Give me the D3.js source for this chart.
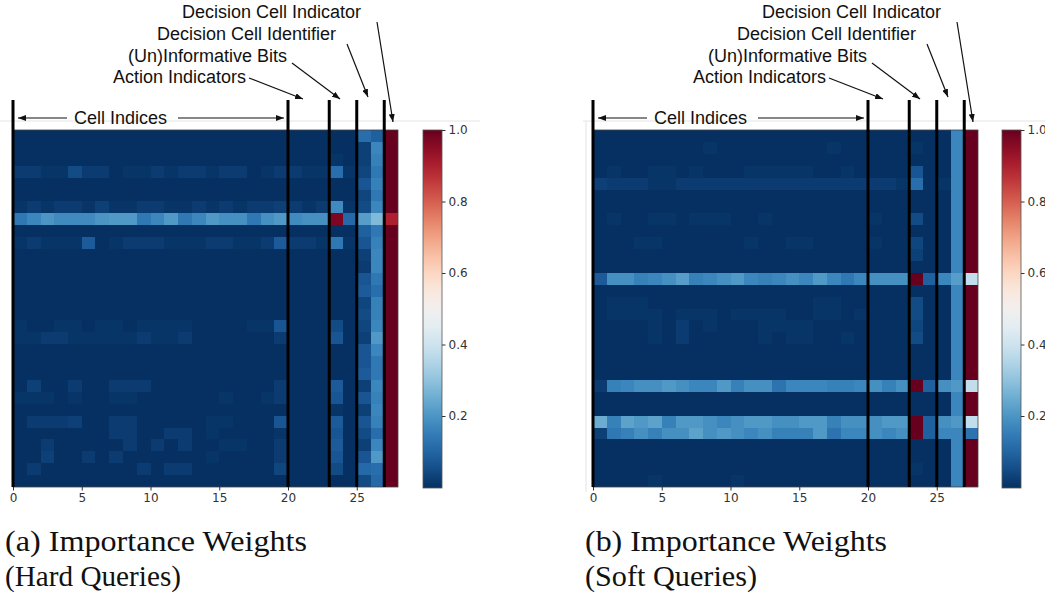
<!DOCTYPE html>
<html>
<head>
<meta charset="utf-8">
<script src="https://cdn.jsdelivr.net/npm/d3@7"></script>
<style>
  body { margin: 0; background: #fff; }
  svg { display: block; }
  .tick text { font-family: "DejaVu Sans", sans-serif; font-size: 12px; fill: #333; }
  .tick line { stroke: #333; }
  .note { font-family: "Liberation Sans", Arial, sans-serif; font-size: 18px; fill: #111; }
  .caption { font-family: "Liberation Serif", "DejaVu Serif", serif; font-size: 29px; fill: #111; }
</style>
</head>
<body>
<div id="chart"></div>
<script>
/**
 * DATA
 * importance weights in percent, 30 rows x 28 columns
 * */
const xTicks = [0, 5, 10, 15, 20, 25];
const colorTicks = [0.2, 0.4, 0.6, 0.8, 1.0];
const dividers = [0, 20, 23, 25, 27];
const noteLabels = ["Decision Cell Indicator", "Decision Cell Identifier", "(Un)Informative Bits", "Action Indicators"];
const spanLabel = "Cell Indices";
const captions = [
  ["(a) Importance Weights", "(Hard Queries)"],
  ["(b) Importance Weights", "(Soft Queries)"]
];

const hardWeights = [
  [0,0,0,0,0,0,0,0,0,0,0,0,0,0,0,0,0,0,0,0,0,0,0,0,0,12,9,100],
  [0,0,0,0,0,0,0,0,0,0,0,0,0,0,0,0,0,0,0,0,0,0,0,0,0,3,17,100],
  [0,0,0,0,0,0,0,0,0,0,0,0,0,0,0,0,0,0,0,0,0,0,0,1,0,3,16,100],
  [2,2,1,1,5,2,2,0,1,1,2,1,2,2,1,2,2,0,1,2,2,1,1,12,1,4,14,100],
  [0,0,0,0,0,0,0,0,0,0,0,0,0,0,0,0,0,0,0,0,0,0,0,0,0,7,16,100],
  [0,0,0,0,0,0,0,0,0,0,0,0,0,0,0,0,0,0,0,0,0,0,0,0,0,4,14,100],
  [1,2,1,2,2,1,3,1,1,2,2,1,1,2,1,2,1,2,2,3,2,1,2,18,1,5,17,100],
  [14,17,20,18,18,18,20,21,21,14,17,21,14,17,21,19,19,14,19,21,18,19,19,97,11,22,28,90],
  [0,0,0,0,0,0,0,0,0,0,0,0,0,0,0,0,0,0,0,0,0,0,0,0,0,9,14,100],
  [1,2,1,1,1,8,0,1,2,2,2,1,1,1,2,2,1,1,2,8,2,2,1,14,1,7,16,100],
  [0,0,0,0,0,0,0,0,0,0,0,0,0,0,0,0,0,0,0,0,0,0,0,0,0,3,17,100],
  [0,0,0,0,0,0,0,0,0,0,0,0,0,0,0,0,0,0,0,0,0,0,0,0,0,2,17,100],
  [0,0,0,0,0,0,0,0,0,0,0,0,0,0,0,0,0,0,0,0,0,0,0,0,0,7,14,100],
  [0,0,0,0,0,0,0,0,0,0,0,0,0,0,0,0,0,0,0,0,0,0,0,0,0,8,12,100],
  [0,0,0,0,0,0,0,0,0,0,0,0,0,0,0,0,0,0,0,0,0,0,0,0,0,4,16,100],
  [0,0,0,0,0,0,0,0,0,0,0,0,0,0,0,0,0,0,0,0,0,0,0,0,0,5,16,100],
  [1,0,0,1,1,0,1,1,0,1,1,1,1,0,0,0,0,1,1,7,0,0,0,5,0,4,17,100],
  [1,1,2,2,1,1,1,1,1,2,1,1,2,0,0,0,0,0,0,2,0,0,0,7,0,3,21,100],
  [0,0,0,0,0,0,0,0,0,0,0,0,0,0,0,0,0,0,0,0,0,0,0,0,0,7,17,100],
  [0,0,0,0,0,0,0,0,0,0,0,0,0,0,0,0,0,0,0,0,0,0,0,0,0,7,14,100],
  [0,0,0,0,0,0,0,0,0,0,0,0,0,0,0,0,0,0,0,0,0,0,0,0,0,8,14,100],
  [0,3,0,0,2,0,0,2,2,2,0,0,0,0,0,0,0,0,0,2,0,0,0,8,0,3,17,100],
  [1,1,1,0,1,0,0,1,1,0,0,0,0,0,0,1,0,0,1,2,0,0,0,7,0,7,16,100],
  [0,0,0,0,0,0,0,0,0,0,0,0,0,0,0,0,0,0,0,0,0,0,0,1,0,3,17,100],
  [0,2,2,2,3,0,0,2,2,0,0,0,0,0,1,1,0,0,0,7,0,0,0,8,0,7,16,100],
  [0,0,0,0,0,0,0,2,2,0,0,2,2,0,1,0,0,0,0,1,0,0,0,7,0,5,12,100],
  [0,0,2,0,0,0,0,0,2,0,2,0,2,0,0,1,1,0,0,2,0,0,0,8,0,3,17,100],
  [0,0,3,0,0,2,0,2,0,0,0,0,0,0,1,0,0,0,0,2,0,0,0,7,0,7,21,100],
  [0,2,0,0,0,0,0,0,0,2,0,2,2,0,0,0,0,0,0,4,0,0,0,5,0,11,12,100],
  [0,0,0,0,0,0,0,0,0,0,0,0,0,0,0,0,0,0,0,0,0,0,0,0,0,5,11,100]
];

const softWeights = [
  [0,0,0,0,0,0,0,0,0,0,0,0,0,0,0,0,0,0,0,0,0,0,0,0,0,0,17,100],
  [0,0,0,0,0,0,0,0,1,0,0,0,0,0,0,0,0,1,0,0,0,0,0,1,0,0,17,100],
  [0,0,0,0,0,0,0,0,0,0,0,0,0,0,0,0,0,0,0,0,0,0,0,0,0,0,17,100],
  [0,1,0,0,1,1,0,1,0,0,0,1,1,1,1,1,0,0,1,0,0,0,0,7,0,0,17,100],
  [3,2,2,2,1,1,2,2,2,2,2,2,2,2,2,2,2,2,2,2,2,2,1,12,0,1,17,100],
  [0,0,0,0,0,0,0,0,0,0,0,0,0,0,0,0,0,0,0,0,0,0,0,0,0,0,17,100],
  [0,0,0,0,0,0,0,0,0,0,0,0,0,0,0,0,0,0,0,0,0,0,0,0,0,0,17,100],
  [0,1,0,0,1,1,0,1,1,1,0,0,1,0,0,0,0,0,0,0,1,0,0,5,0,0,17,100],
  [0,0,0,0,0,0,0,0,0,0,0,0,0,0,0,0,0,0,0,0,0,0,0,0,0,0,17,100],
  [0,0,0,1,1,0,0,0,0,0,0,1,0,0,1,1,0,0,0,0,1,0,0,4,0,0,17,100],
  [0,0,0,0,0,0,0,0,0,0,0,0,0,0,0,0,0,0,0,0,0,0,0,3,0,0,17,100],
  [0,0,0,0,0,0,0,0,0,0,0,0,0,0,0,0,0,0,0,0,0,0,0,0,0,0,17,100],
  [8,19,19,16,17,19,22,16,17,19,21,17,16,17,19,17,21,17,14,17,19,19,19,100,9,17,22,38],
  [0,0,0,0,0,0,0,0,0,0,0,0,0,0,0,0,0,0,0,0,0,0,0,0,0,0,17,100],
  [0,1,1,1,0,0,0,0,0,0,0,0,0,0,0,0,1,1,0,0,0,0,0,5,0,0,17,100],
  [0,1,1,1,1,0,1,1,1,0,1,1,1,1,0,0,1,1,0,1,0,0,0,5,0,0,17,100],
  [0,0,0,0,1,0,2,0,1,0,0,0,1,1,1,1,0,0,0,0,0,0,0,4,0,0,17,100],
  [0,0,0,0,1,0,2,0,0,0,0,0,1,0,1,1,0,0,1,0,0,0,0,5,0,0,17,100],
  [0,0,0,0,0,0,0,0,0,0,0,0,0,0,0,0,0,0,0,0,0,0,0,0,0,0,17,100],
  [0,0,0,0,0,0,0,0,0,0,0,0,0,0,0,0,0,0,0,0,0,0,0,0,0,0,17,100],
  [0,0,0,0,0,0,0,0,0,0,0,0,0,0,0,0,0,0,0,0,0,0,0,0,0,0,17,100],
  [2,16,17,19,19,21,19,17,17,21,16,19,19,13,17,17,17,16,16,17,19,16,19,100,9,19,21,38],
  [0,0,0,0,0,0,0,0,0,0,0,0,0,0,0,0,0,0,0,0,0,0,0,0,0,0,17,100],
  [0,0,0,0,0,0,0,0,0,0,0,0,0,0,0,0,0,0,0,0,0,0,0,0,0,0,17,100],
  [25,16,23,21,23,16,21,21,19,17,19,21,21,19,19,21,21,16,19,19,19,21,21,100,9,19,21,38],
  [3,14,16,19,16,19,19,23,19,21,19,17,19,16,16,16,21,13,17,17,19,17,19,100,9,17,17,13],
  [0,0,0,0,0,0,0,0,0,0,0,0,0,0,0,0,0,0,0,0,0,0,0,0,0,0,17,100],
  [0,0,0,0,0,0,0,0,0,0,0,0,0,0,0,0,0,0,0,0,0,0,0,0,0,0,17,100],
  [0,0,0,0,0,0,0,0,0,0,0,0,0,0,0,0,0,0,0,0,0,0,0,1,0,0,17,100],
  [0,0,0,0,1,0,0,0,0,0,1,0,0,0,0,0,0,0,0,0,0,0,0,0,0,0,17,100]
];

/**
 * LAYOUT
 * */
const width = 1045, height = 596;
const nCols = 28, nRows = 30;
const plotTop = 130, plotBottom = 487, plotWidth = 385;
const lineTop = 100;

const panels = [
  { weights: hardWeights, x0: 13, cbX: 423, capX: 5, caption: captions[0] },
  { weights: softWeights, x0: 593, cbX: 1002, capX: 585, caption: captions[1] }
];

// annotation geometry, relative to the left panel (shifted for the right one)
const noteLayout = [
  { tx: 182, ty: 18, from: [377, 22], to: [393, 122] },
  { tx: 157, ty: 40, from: [347, 44], to: [368, 97] },
  { tx: 128, ty: 62, from: [292, 63], to: [340, 99] },
  { tx: 113, ty: 83, from: [249, 78], to: [303, 99] }
];
const spanLayout = { tx: 74, ty: 124, y: 118, left: [67, 18], right: [178, 284] };
const captionLayout = { y1: 551, y2: 586, len1: 302, len2: [176, 172] };

const color = d3.scaleSequential(t => d3.interpolateRdBu(1 - t)).domain([0, 1]);

const svg = d3.select("#chart")
  .append("svg")
  .attr("width", width)
  .attr("height", height);

const defs = svg.append("defs");
defs.append("marker")
  .attr("id", "head")
  .attr("viewBox", "0 0 8 6")
  .attr("refX", 8)
  .attr("refY", 3)
  .attr("markerWidth", 8)
  .attr("markerHeight", 6)
  .attr("markerUnits", "userSpaceOnUse")
  .attr("orient", "auto")
  .append("path")
  .attr("d", "M0,0 L8,3 L0,6 Z")
  .attr("fill", "#111");

// colorbar gradient (bottom = 0, top = 1)
const grad = defs.append("linearGradient")
  .attr("id", "cbgrad")
  .attr("x1", 0).attr("y1", 1).attr("x2", 0).attr("y2", 0);
d3.range(0, 1.0001, 0.05).forEach(t => {
  grad.append("stop").attr("offset", t).attr("stop-color", color(t));
});

panels.forEach((p, pi) => {
  const off = p.x0 - panels[0].x0;
  const g = svg.append("g");

  // faint screenshot frame lines
  g.append("line")
    .attr("x1", pi === 0 ? 0 : 583).attr("x2", pi === 0 ? 480 : width)
    .attr("y1", 121).attr("y2", 121)
    .attr("stroke", "#e4e4e4");
  if (pi === 1) {
    g.append("line")
      .attr("x1", 586).attr("x2", 586)
      .attr("y1", 121).attr("y2", 492)
      .attr("stroke", "#e4e4e4");
  }

  const x = d3.scaleLinear().domain([0, nCols]).range([p.x0, p.x0 + plotWidth]);
  const y = d3.scaleLinear().domain([0, nRows]).range([plotTop, plotBottom]);
  const rx = v => Math.round(x(v)), ry = v => Math.round(y(v));

  const cells = [];
  p.weights.forEach((row, r) => row.forEach((v, c) => cells.push({ r, c, v: v / 100 })));

  g.append("g")
    .attr("shape-rendering", "crispEdges")
    .selectAll("rect")
    .data(cells)
    .join("rect")
    .attr("x", d => rx(d.c))
    .attr("y", d => ry(d.r))
    .attr("width", d => rx(d.c + 1) - rx(d.c))
    .attr("height", d => ry(d.r + 1) - ry(d.r))
    .attr("fill", d => color(d.v));

  g.append("rect")
    .attr("x", x(0)).attr("y", plotTop)
    .attr("width", plotWidth).attr("height", plotBottom - plotTop)
    .attr("fill", "none")
    .attr("stroke", "#444")
    .attr("stroke-width", 0.8);

  // bottom axis
  g.append("g")
    .attr("transform", `translate(0,${plotBottom})`)
    .call(d3.axisBottom(x).tickValues(xTicks).tickSize(3.5).tickPadding(3))
    .call(a => a.select(".domain").remove());

  // colorbar
  const cb = d3.scaleLinear().domain([0, 1]).range([plotBottom + 0.5, plotTop]);
  g.append("rect")
    .attr("x", p.cbX).attr("y", plotTop)
    .attr("width", 19).attr("height", plotBottom + 1 - plotTop)
    .attr("fill", "url(#cbgrad)")
    .attr("stroke", "#555")
    .attr("stroke-width", 0.8);
  g.append("g")
    .attr("transform", `translate(${p.cbX + 19},0)`)
    .call(d3.axisRight(cb).tickValues(colorTicks).tickFormat(d3.format(".1f")).tickSize(3.5).tickPadding(3))
    .call(a => a.select(".domain").remove());

  // vertical divider lines
  g.selectAll(".divider")
    .data(dividers)
    .join("line")
    .attr("class", "divider")
    .attr("x1", d => x(d)).attr("x2", d => x(d))
    .attr("y1", lineTop).attr("y2", plotBottom)
    .attr("stroke", "#000")
    .attr("stroke-width", 3);

  // annotations
  noteLabels.forEach((label, i) => {
    const L = noteLayout[i];
    g.append("text")
      .attr("class", "note")
      .attr("x", L.tx + off).attr("y", L.ty)
      .text(label);
    g.append("line")
      .attr("x1", L.from[0] + off).attr("y1", L.from[1])
      .attr("x2", L.to[0] + off).attr("y2", L.to[1])
      .attr("stroke", "#111").attr("stroke-width", 1.2)
      .attr("marker-end", "url(#head)");
  });

  g.append("text")
    .attr("class", "note")
    .attr("x", spanLayout.tx + off).attr("y", spanLayout.ty)
    .text(spanLabel);
  [spanLayout.left, spanLayout.right].forEach(([a, b]) => {
    g.append("line")
      .attr("x1", a + off).attr("x2", b + off)
      .attr("y1", spanLayout.y).attr("y2", spanLayout.y)
      .attr("stroke", "#111").attr("stroke-width", 1.2)
      .attr("marker-end", "url(#head)");
  });

  // caption
  g.append("text")
    .attr("class", "caption")
    .attr("x", p.capX).attr("y", captionLayout.y1)
    .attr("textLength", captionLayout.len1)
    .attr("lengthAdjust", "spacingAndGlyphs")
    .text(p.caption[0]);
  g.append("text")
    .attr("class", "caption")
    .attr("x", p.capX).attr("y", captionLayout.y2)
    .attr("textLength", captionLayout.len2[pi])
    .attr("lengthAdjust", "spacingAndGlyphs")
    .text(p.caption[1]);
});
</script>
</body>
</html>
